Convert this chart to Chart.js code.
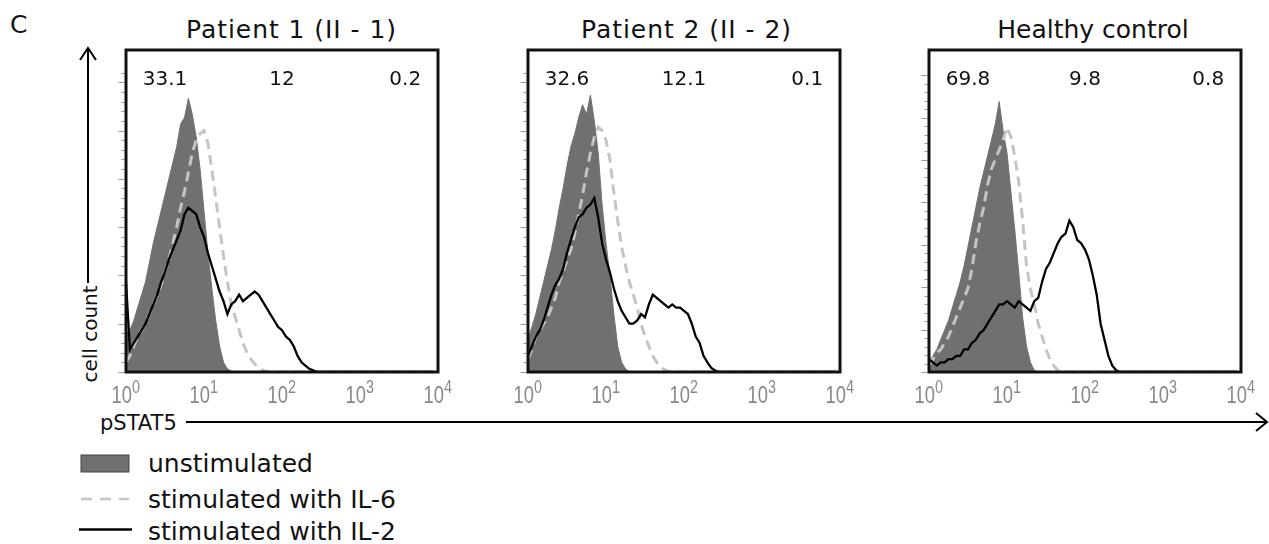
<!DOCTYPE html>
<html>
<head>
<meta charset="utf-8">
<script src="https://cdn.jsdelivr.net/npm/chart.js@4"></script>
<style>
    body { margin: 0; background: #fff; }
    #wrap { position: relative; width: 1269px; height: 544px; overflow: hidden; }
    #wrap canvas { position: absolute; top: 40px; }
    #deco { position: absolute; left: 0; top: 0; }
    #deco text { font-family: "DejaVu Sans"; fill: #111; }
</style>
</head>
<body>
<div id="wrap">
    <svg id="deco" width="1269" height="544" xmlns="http://www.w3.org/2000/svg">
        <text x="10" y="33" font-size="25">C</text>
        <!-- y axis arrow -->
        <line x1="88" y1="48" x2="88" y2="283" stroke="#000" stroke-width="2"/>
        <polyline points="80,60 88,48 96,60" fill="none" stroke="#000" stroke-width="2"/>
        <text id="yLabel" x="97" y="334" font-size="20" text-anchor="middle" transform="rotate(-90 97 334)"></text>
        <!-- x axis arrow -->
        <text id="xLabel" x="100" y="430" font-size="21"></text>
        <line x1="186" y1="422" x2="1266" y2="422" stroke="#000" stroke-width="2"/>
        <polyline points="1256,413 1267,422 1256,431" fill="none" stroke="#000" stroke-width="2"/>
        <!-- legend swatches -->
        <rect x="81" y="455" width="48" height="17" fill="#707070" stroke="#444" stroke-width="1"/>
        <line x1="81" y1="499" x2="129" y2="499" stroke="#c6c6c6" stroke-width="2.5" stroke-dasharray="11 8"/>
        <line x1="79" y1="529.5" x2="132" y2="529.5" stroke="#000" stroke-width="2.5"/>
        <g id="titles"></g>
        <g id="legendText"></g>
    </svg>
    <canvas id="p1" width="356" height="372" style="left:104px"></canvas>
    <canvas id="p2" width="356" height="372" style="left:506px"></canvas>
    <canvas id="p3" width="356" height="372" style="left:907px"></canvas>
</div>
<script>
// fluorescence bins, in decades (10^0 .. 10^4)
const decades = [0, 0.05, 0.1, 0.15, 0.2, 0.25, 0.3, 0.35, 0.4, 0.45,
    0.5, 0.55, 0.6, 0.65, 0.7, 0.75, 0.8, 0.85, 0.9, 0.95,
    1, 1.05, 1.1, 1.15, 1.2, 1.25, 1.3, 1.35, 1.4, 1.45,
    1.5, 1.55, 1.6, 1.65, 1.7, 1.75, 1.8, 1.85, 1.9, 1.95,
    2, 2.05, 2.1, 2.15, 2.2, 2.25, 2.3, 2.35, 2.4, 2.45,
    2.5, 3, 3.5, 3.95];

// cell counts (% of frame height)
const p1Unstim = [12, 13, 16, 20, 24, 28, 34, 40, 45, 50, 55, 60, 65, 70, 77, 79, 85, 80, 73, 63,
    50, 37, 26, 16, 8, 3, 1, 0.3, 0, 0, 0, 0, 0, 0, 0, 0, 0, 0, 0, 0,
    0, 0, 0, 0, 0, 0, 0, 0, 0, 0, 0, 0, 0, 0];
const p1Il6 = [3, 5, 8, 11, 13, 15, 18, 21, 24, 27, 31, 35, 40, 45, 51, 56, 62, 68, 72, 74,
    75, 71, 63, 54, 45, 36, 28, 21, 17, 13, 9, 6, 4, 2.5, 1.3, 0.6, 0.2, 0, 0, 0,
    0, 0, 0, 0, 0, 0, 0, 0, 0, 0, 0, 0, 0, 0];
const p1Il2 = [28, 7, 9, 11, 13, 15, 18, 21, 24, 28, 31, 35, 38, 41, 44, 49, 51, 50, 49, 45,
    42, 37, 33, 29, 25, 22, 18, 21, 22, 24, 22, 23, 24, 25, 24, 22, 20, 18, 16, 14,
    13, 11, 10, 8, 5, 3, 2, 1, 0.5, 0, 0, 0, 0, 0];

const p2Unstim = [10, 14, 18, 23, 28, 33, 38, 44, 51, 57, 64, 70, 74, 79, 83, 80, 86, 78, 68, 52,
    40, 30, 18, 8, 3, 1, 0, 0, 0, 0, 0, 0, 0, 0, 0, 0, 0, 0, 0, 0,
    0, 0, 0, 0, 0, 0, 0, 0, 0, 0, 0, 0, 0, 0];
const p2Il6 = [4, 7, 11, 13, 15, 17, 20, 23, 28, 31, 35, 38, 43, 49, 55, 62, 68, 73, 76, 75,
    72, 66, 56, 47, 39, 33, 28, 24, 20, 15, 11, 8, 5, 3, 1.5, 0.7, 0.2, 0, 0, 0,
    0, 0, 0, 0, 0, 0, 0, 0, 0, 0, 0, 0, 0, 0];
const p2Il2 = [5, 8, 11, 13, 16, 20, 24, 27, 29, 32, 37, 41, 45, 48, 49, 51, 52, 54, 48, 40,
    35, 31, 26, 22, 19, 17, 15, 15, 16, 18, 17, 21, 24, 23, 22, 21, 20, 21, 20, 20,
    19, 18, 15, 11, 9, 5, 3, 1.3, 0.4, 0, 0, 0, 0, 0];

const p3Unstim = [3, 5, 7, 10, 13, 16, 20, 24, 28, 33, 39, 45, 51, 57, 62, 67, 72, 77, 84, 75,
    68, 56, 44, 31, 17, 8, 3, 0.5, 0, 0, 0, 0, 0, 0, 0, 0, 0, 0, 0, 0,
    0, 0, 0, 0, 0, 0, 0, 0, 0, 0, 0, 0, 0, 0];
const p3Il6 = [2, 4, 6, 7, 9, 11, 14, 17, 20, 23, 26, 32, 40, 46, 51, 58, 63, 66, 69, 72,
    76, 73, 67, 59, 47, 33, 26, 21, 15, 11, 7, 4, 2, 0.5, 0, 0, 0, 0, 0, 0,
    0, 0, 0, 0, 0, 0, 0, 0, 0, 0, 0, 0, 0, 0];
const p3Il2 = [4, 3, 2, 3, 3, 4, 4, 5, 5, 7, 7, 9, 10, 12, 13, 15, 17, 19, 21, 21,
    22, 21, 20, 22, 21, 20, 19, 22, 23, 28, 32, 34, 37, 40, 42, 43, 47, 45, 41, 40,
    38, 35, 30, 24, 15, 10, 5, 2, 0.5, 0, 0, 0, 0, 0];

const panelTitles = ['Patient 1 (II - 1)', 'Patient 2 (II - 2)', 'Healthy control'];
const gateLabels = [['33.1', '12', '0.2'], ['32.6', '12.1', '0.1'], ['69.8', '9.8', '0.8']];
const gateX = [0.5, 2.0, 3.58];
const xTicks = [0, 1, 2, 3, 4];
const seriesNames = ['unstimulated', 'stimulated with IL-6', 'stimulated with IL-2'];

// --- SVG texts (titles, axis names, legend) ---
const svgNS = 'http://www.w3.org/2000/svg';
function addText(parent, str, x, y, size, anchor, width) {
    const t = document.createElementNS(svgNS, 'text');
    t.setAttribute('x', x);
    t.setAttribute('y', y);
    t.setAttribute('font-size', size);
    if (anchor) t.setAttribute('text-anchor', anchor);
    if (width) {
        t.setAttribute('textLength', width);
        t.setAttribute('lengthAdjust', 'spacing');
    }
    t.textContent = str;
    parent.appendChild(t);
}
const titleCenters = [291, 686, 1093];
const titleWidths = [210, 210, 0];
panelTitles.forEach((s, i) => addText(document.getElementById('titles'), s, titleCenters[i], 38, 25, 'middle', titleWidths[i]));
[471.5, 508, 540].forEach((y, i) => addText(document.getElementById('legendText'), seriesNames[i], 148, y, 25));
document.getElementById('yLabel').textContent = 'cell count';
document.getElementById('xLabel').textContent = 'pSTAT5';

// --- frame, y ticks, gate numbers, 10^n labels ---
const panelDecor = {
    id: 'panelDecor',
    afterDatasetsDraw(chart, args, opts) {
        const { ctx, chartArea: a, scales: { x, y } } = chart;
        ctx.save();

        ctx.strokeStyle = '#999';
        ctx.lineWidth = 1;
        for (let i = 0; i * opts.yStep <= 94; i++) {
            const py = Math.round(y.getPixelForValue(i * opts.yStep)) + 0.5;
            const len = i % 5 === 0 ? 6 : 3;
            ctx.beginPath();
            ctx.moveTo(a.left - 1.5 - len, py);
            ctx.lineTo(a.left - 1.5, py);
            ctx.stroke();
        }

        ctx.strokeStyle = '#111';
        ctx.lineWidth = 3;
        ctx.strokeRect(a.left, a.top, a.right - a.left, a.bottom - a.top);

        ctx.fillStyle = '#111';
        ctx.font = '20px "DejaVu Sans"';
        ctx.textAlign = 'center';
        opts.gates.forEach((t, i) => ctx.fillText(t, x.getPixelForValue(gateX[i]), y.getPixelForValue(89)));

        // 10^n labels, a little condensed like the original
        ctx.fillStyle = '#888';
        xTicks.forEach(v => {
            const px = x.getPixelForValue(v);
            ctx.save();
            ctx.translate(px + 6, a.bottom + 31);
            ctx.scale(0.8, 1);
            ctx.textAlign = 'right';
            ctx.font = '23px "Liberation Sans"';
            ctx.fillText('10', 0, 0);
            ctx.textAlign = 'left';
            ctx.font = '18px "Liberation Sans"';
            ctx.fillText(String(v), 0, -10);
            ctx.restore();
        });
        ctx.restore();
    }
};

function points(vals) {
    return decades.map((d, i) => ({ x: d, y: vals[i] }));
}

function makePanel(id, unstim, il6, il2, gates, yStep) {
    return new Chart(document.getElementById(id), {
        type: 'line',
        data: {
            datasets: [
                { label: seriesNames[2], data: points(il2), borderColor: '#000', borderWidth: 2.3, fill: false, order: 1 },
                { label: seriesNames[1], data: points(il6), borderColor: '#c4c4c4', borderWidth: 3, borderDash: [10, 6], fill: false, order: 2 },
                { label: seriesNames[0], data: points(unstim), borderColor: '#707070', borderWidth: 1, backgroundColor: '#707070', fill: 'origin', order: 3 }
            ]
        },
        options: {
            responsive: false,
            animation: false,
            devicePixelRatio: 1,
            layout: { padding: { left: 22, right: 22, top: 10, bottom: 0 } },
            elements: { point: { radius: 0 }, line: { tension: 0 } },
            scales: {
                x: {
                    type: 'linear', min: 0, max: 4,
                    grid: { display: false }, border: { display: false },
                    ticks: { display: false },
                    afterFit(s) { s.height = 40; }
                },
                y: { min: 0, max: 100, display: false }
            },
            plugins: {
                legend: { display: false },
                tooltip: { enabled: false },
                panelDecor: { gates: gates, yStep: yStep }
            }
        },
        plugins: [panelDecor]
    });
}

makePanel('p1', p1Unstim, p1Il6, p1Il2, gateLabels[0], 3);
makePanel('p2', p2Unstim, p2Il6, p2Il2, gateLabels[1], 3);
makePanel('p3', p3Unstim, p3Il6, p3Il2, gateLabels[2], 2.634);
</script>
</body>
</html>
